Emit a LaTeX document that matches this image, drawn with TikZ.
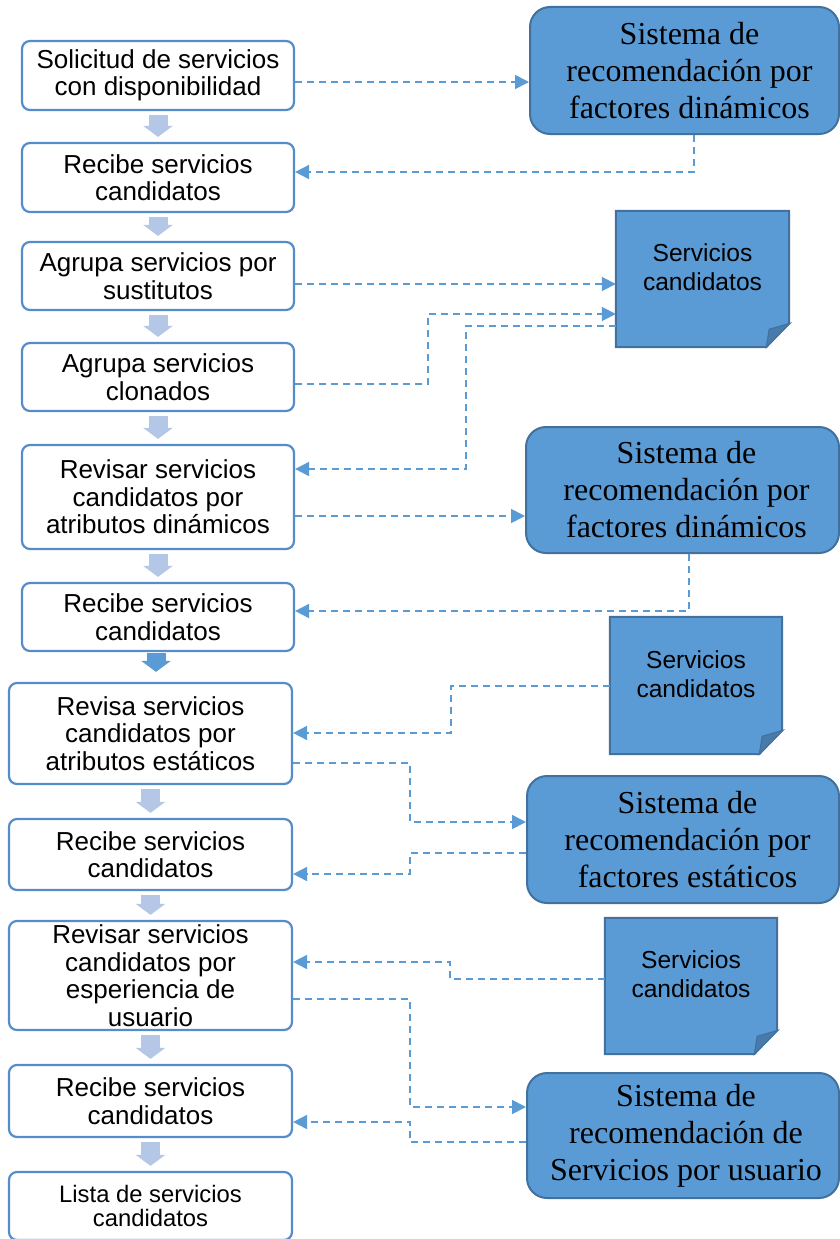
\documentclass[tikz,border=0pt]{standalone}
\usepackage{fontspec}
\setmainfont{Liberation Serif}
\setsansfont{Liberation Sans}
\usetikzlibrary{arrows.meta,calc}
\definecolor{bxline}{RGB}{84,141,201}
\definecolor{sfill}{RGB}{91,155,213}
\definecolor{sline}{RGB}{65,113,156}
\definecolor{foldc}{RGB}{72,122,172}
\definecolor{dashc}{RGB}{91,155,213}
\definecolor{lightarr}{RGB}{180,199,231}
\definecolor{darkarr}{RGB}{91,155,213}
\tikzset{
  flowbox/.style={draw=bxline, line width=2.2pt, rounded corners=8pt, fill=white,
    minimum width=272pt, inner sep=0pt, align=center,
    font=\sffamily\fontsize{26pt}{27.5pt}\selectfont},
  flowboxb/.style={flowbox, minimum width=283pt},
  sysbox/.style={draw=sline, line width=2pt, rounded corners=20pt, fill=sfill, inner sep=0pt},
  systext/.style={inner sep=0pt, align=center, font=\rmfamily\fontsize{32pt}{37pt}\selectfont},
  noteshape/.style={inner sep=0pt, minimum width=172pt, minimum height=136pt},
  notetext/.style={inner sep=0pt, align=center, font=\sffamily\fontsize{24.6pt}{29pt}\selectfont},
  conn/.style={draw=dashc, line width=1.8pt, dash pattern=on 7pt off 5pt,
    -{Triangle[length=14pt,width=14pt]}, fill=none},
  blkarrow/.style={draw=lightarr, line width=19pt, -{Triangle[length=11pt,width=29pt]}},
  blkarrowdark/.style={blkarrow, draw=darkarr},
}
\newcommand{\drawnote}[1]{%
  \fill[sfill, draw=sline, line width=2pt] (#1.north west) -- (#1.north east)
    -- ([yshift=24pt]#1.south east) -- ([xshift=-23pt]#1.south east)
    -- (#1.south west) -- cycle;
  \fill[foldc, draw=sline, line width=1pt] ([xshift=1pt,yshift=24pt]#1.south east)
    -- ([xshift=-20pt,yshift=18pt]#1.south east) -- ([xshift=-23pt]#1.south east) -- cycle;
}
\begin{document}
\begin{tikzpicture}[x=1pt,y=-1pt]
\useasboundingbox (0,0) rectangle (840,1239);
\clip (0,0) rectangle (840,1239);
\fill[white] (0,0) rectangle (840,1239);

% left column
\node[flowbox, minimum height=69pt] (b1) at (158,75.5) {Solicitud de servicios\\con disponibilidad};
\node[flowbox, minimum height=69pt] (b2) at (158,177.5) {Recibe servicios\\candidatos};
\node[flowbox, minimum height=68pt] (b3) at (158,276) {Agrupa servicios por\\sustitutos};
\node[flowbox, minimum height=68pt] (b4) at (158,377) {Agrupa servicios\\clonados};
\node[flowbox, minimum height=104pt] (b5) at (158,497) {Revisar servicios\\candidatos por\\atributos dinámicos};
\node[flowbox, minimum height=68pt] (b6) at (158,617) {Recibe servicios\\candidatos};
\node[flowboxb, minimum height=101pt] (b7) at (150.5,733.5) {Revisa servicios\\candidatos por\\atributos estáticos};
\node[flowboxb, minimum height=71pt] (b8) at (150.5,854.5) {Recibe servicios\\candidatos};
\node[flowboxb, minimum height=109pt] (b9) at (150.5,975.5) {Revisar servicios\\candidatos por\\esperiencia de\\usuario};
\node[flowboxb, minimum height=72pt] (b10) at (150.5,1101) {Recibe servicios\\candidatos};
\node[flowboxb, minimum height=68pt, font=\sffamily\fontsize{23.8pt}{24.5pt}\selectfont] (b11) at (150.5,1206) {Lista de servicios\\candidatos};

% block arrows
\draw[blkarrow] ([yshift=-4pt]b1.south) -- ([yshift=5pt]b1.south |- b2.north);
\draw[blkarrow] ([yshift=-4pt]b2.south) -- ([yshift=5pt]b2.south |- b3.north);
\draw[blkarrow] ([yshift=-4pt]b3.south) -- ([yshift=5pt]b3.south |- b4.north);
\draw[blkarrow] ([yshift=-4pt]b4.south) -- ([yshift=5pt]b4.south |- b5.north);
\draw[blkarrow] ([yshift=-4pt]b5.south) -- ([yshift=5pt]b5.south |- b6.north);
\draw[blkarrowdark] ([xshift=-2pt,yshift=-1pt]b6.south) -- ([xshift=-2pt,yshift=10pt]b6.south |- b7.north);
\draw[blkarrow] ([yshift=-4pt]b7.south) -- ([yshift=5pt]b7.south |- b8.north);
\draw[blkarrow] ([yshift=-4pt]b8.south) -- ([yshift=5pt]b8.south |- b9.north);
\draw[blkarrow] ([yshift=-4pt]b9.south) -- ([yshift=5pt]b9.south |- b10.north);
\draw[blkarrow] ([yshift=-4pt]b10.south) -- ([yshift=5pt]b10.south |- b11.north);

% right column: systems
\node[sysbox, minimum width=309pt, minimum height=127pt] (s1) at (684.5,70.5) {};
\node[systext] (s1t) at ([xshift=5pt]s1.center) {Sistema de\\recomendación por\\factores dinámicos};
\node[sysbox, minimum width=313pt, minimum height=126pt] (s2) at (682.5,490) {};
\node[systext] (s2t) at ([xshift=4pt]s2.center) {Sistema de\\recomendación por\\factores dinámicos};
\node[sysbox, minimum width=312pt, minimum height=127pt] (s3) at (683,839.5) {};
\node[systext] (s3t) at ([xshift=4.5pt]s3.center) {Sistema de\\recomendación por\\factores estáticos};
\node[sysbox, minimum width=312pt, minimum height=125pt] (s4) at (683,1135.5) {};
\node[systext] (s4t) at ([xshift=3pt]s4.center) {Sistema de\\recomendación de\\Servicios por usuario};

% notes
\node[noteshape, minimum width=173pt] (n1) at (702.5,279) {};
\drawnote{n1}
\node[notetext] (n1t) at ([yshift=11.5pt]n1.center) {Servicios\\candidatos};
\node[noteshape, minimum height=137pt] (n2) at (696,685.5) {};
\drawnote{n2}
\node[notetext] (n2t) at ([yshift=11pt]n2.center) {Servicios\\candidatos};
\node[noteshape] (n3) at (691,986) {};
\drawnote{n3}
\node[notetext] (n3t) at ([yshift=11.5pt]n3.center) {Servicios\\candidatos};

% dashed connectors
\draw[conn] (b1.east |- 0,82) -- (s1.west |- 0,82);
\draw[conn] (s1.south -| 694,0) |- (b2.east |- 0,172);
\draw[conn] (b3.east |- 0,284) -- (n1.west |- 0,284);
\draw[conn] (b4.east |- 0,384) -| (428,314) -- (n1.west |- 0,314);
\draw[conn] (n1.west |- 0,326) -| (466,469) -- (b5.east |- 0,469);
\draw[conn] (b5.east |- 0,516) -- (s2.west |- 0,516);
\draw[conn] (s2.south -| 689,0) |- (b6.east |- 0,611);
\draw[conn] (n2.west |- 0,686) -| (451,733) -- (b7.east |- 0,733);
\draw[conn] (b7.east |- 0,763) -| (410,822) -- (s3.west |- 0,822);
\draw[conn] (s3.west |- 0,853) -| (410,874) -- (b8.east |- 0,874);
\draw[conn] (n3.west |- 0,979) -| (450,962) -- (b9.east |- 0,962);
\draw[conn] (b9.east |- 0,999) -| (410,1107) -- (s4.west |- 0,1107);
\draw[conn] (s4.west |- 0,1142) -| (410,1122) -- (b10.east |- 0,1122);
\end{tikzpicture}
\end{document}
